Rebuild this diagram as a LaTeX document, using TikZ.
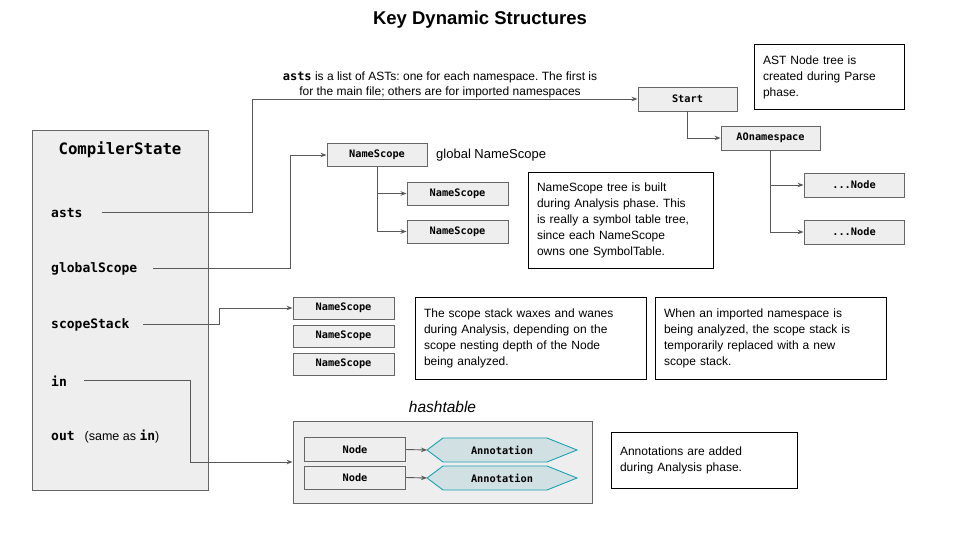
\documentclass[tikz,border=0pt]{standalone}
\usepackage{fontspec}
\setmainfont{Liberation Sans}
\setmonofont{DejaVu Sans Mono}
\usetikzlibrary{arrows.meta}
\definecolor{boxfill}{HTML}{EEEEEE}
\definecolor{boxline}{HTML}{666666}
\definecolor{wirecol}{HTML}{595959}
\definecolor{annotfill}{HTML}{D0E0E3}
\definecolor{annotline}{HTML}{18A2B2}
\tikzset{
  gbox/.style={draw=boxline, fill=boxfill, line width=0.9pt, inner sep=0pt,
    font=\fontsize{10.3}{12}\selectfont\ttfamily\bfseries},
  boxtext/.style={inner sep=0pt, font=\fontsize{10.3}{12}\selectfont\ttfamily\bfseries},
  note/.style={draw=black, fill=white, line width=1pt, inner xsep=9pt, inner ysep=0pt,
    align=left, font=\fontsize{12}{16}\selectfont},
  field/.style={anchor=west, inner sep=0pt, font=\fontsize{13}{15}\selectfont\ttfamily\bfseries},
  wire/.style={draw=wirecol, line width=0.9pt, -{Stealth[length=6pt,width=4.5pt]}},
  annot/.style={draw=annotline, fill=annotfill, line width=0.9pt},
}
\frenchspacing

\begin{document}
\begin{tikzpicture}[x=1pt, y=-1pt]
			%%%%% START %%%%%
			\useasboundingbox (0,0) rectangle (960,540);
			
			\node[font=\fontsize{18.5}{22}\selectfont\bfseries] (title) at (480,20) {Key Dynamic Structures};
			
			% compiler state
			\node[draw=boxline, fill=boxfill, line width=0.9pt, minimum width=176, minimum height=360] (state) at (120,310) {};
			\node[font=\fontsize{15.7}{18}\selectfont\ttfamily\bfseries] (statename) at (120,150) {CompilerState};
			\node[field] (asts) at (51,213) {asts};
			\node[field] (globalscope) at (51,269) {globalScope};
			\node[field] (scopestack) at (51,325) {scopeStack};
			\node[field] (in) at (51,381) {in};
			\node[field] (out) at (51,437) {out\hspace{10pt}{\rmfamily\mdseries\fontsize{12.5}{15}\selectfont (same as }in{\rmfamily\mdseries\fontsize{12.5}{15}\selectfont )}};
			\coordinate (astsout) at (102,212.5);
			\coordinate (globalout) at (153,268.5);
			\coordinate (stackout) at (143,324.5);
			\coordinate (inout) at (84,380.5);
			
			% AST tree
			\node[font=\fontsize{12}{15}\selectfont, align=center] (astslabel) at (440,84.5) {\textbf{\texttt{asts}} is a list of ASTs: one for each namespace. The first is\\for the main file; others are for imported namespaces};
			\node[gbox, minimum width=99, minimum height=24] (start) at (687.5,99) {Start};
			\node[gbox, minimum width=99, minimum height=24] (aonamespace) at (770.5,138) {AOnamespace};
			\node[gbox, minimum width=100, minimum height=24] (subnode1) at (854,185) {...Node};
			\node[gbox, minimum width=100, minimum height=24] (subnode2) at (854,232) {...Node};
			\node[note, minimum height=65, text width=132] (astnote) at (829,77.5) {AST Node tree is\\created during Parse\\phase.};
			
			\draw[wire] (astsout) -| (252,99) -- (start.west);
			\draw[wire] (start.south) |- (aonamespace.west);
			\draw[wire] (aonamespace.south) |- (subnode1.west);
			\draw[wire] (aonamespace.south) |- (subnode2.west);
			
			% name scope tree
			\node[gbox, minimum width=100, minimum height=23] (globalns) at (377,155) {NameScope};
			\node[anchor=west, inner sep=0pt, font=\fontsize{13}{15}\selectfont] (globallabel) at (436,155) {global NameScope};
			\node[gbox, minimum width=101, minimum height=23] (childns1) at (457.5,193.5) {NameScope};
			\node[gbox, minimum width=101, minimum height=23] (childns2) at (457.5,231.5) {NameScope};
			\node[note, minimum height=95, text width=167] (treenote) at (620.5,220.5) {NameScope tree is built\\during Analysis phase. This\\is really a symbol table tree,\\since each NameScope\\owns one SymbolTable.};
			
			\draw[wire] (globalout) -| (290,155) -- (globalns.west);
			\draw[wire] (globalns.south) |- (childns1.west);
			\draw[wire] (globalns.south) |- (childns2.west);
			
			% scope stack
			\node[gbox, minimum width=101, minimum height=22] (stack1) at (343.5,308) {NameScope};
			\node[gbox, minimum width=101, minimum height=22] (stack2) at (343.5,336) {NameScope};
			\node[gbox, minimum width=101, minimum height=22] (stack3) at (343.5,364) {NameScope};
			\node[note, minimum height=82, text width=213] (stacknote) at (530.5,338) {The scope stack waxes and wanes\\during Analysis, depending on the\\scope nesting depth of the Node\\being analyzed.};
			\node[note, minimum height=82, text width=213] (importnote) at (770.5,338) {When an imported namespace is\\being analyzed, the scope stack is\\temporarily replaced with a new\\scope stack.};
			
			\draw[wire] (stackout) -| (219,308) -- (stack1.west);
			
			% hashtable
			\node[font=\fontsize{15.5}{18}\selectfont\itshape] (hashlabel) at (442.5,407) {hashtable};
			\node[draw=boxline, fill=boxfill, line width=0.9pt, minimum width=299, minimum height=82] (hash) at (442.5,462) {};
			\node[gbox, minimum width=101, minimum height=24] (key1) at (355,449.5) {Node};
			\node[gbox, minimum width=101, minimum height=23] (key2) at (355,477.5) {Node};
			\draw[annot] (427,450) -- (443,438) -- (547,438) -- (577,450) -- (547,462) -- (443,462) -- cycle;
			\draw[annot] (427,478) -- (443,466) -- (547,466) -- (577,478) -- (547,490) -- (443,490) -- cycle;
			\node[boxtext] (annot1) at (502,450) {Annotation};
			\node[boxtext] (annot2) at (502,478) {Annotation};
			\coordinate (annot1tip) at (427,450);
			\coordinate (annot2tip) at (427,478);
			\node[note, minimum height=56, text width=168] (annotnote) at (704,460) {Annotations are added\\during Analysis phase.};
			
			\draw[wire] (inout) -| (190,462) -- (hash.west);
			\draw[wire] (key1.east) -- (annot1tip);
			\draw[wire] (key2.east) -- (annot2tip);
			
			%%%%% END %%%%%
\end{tikzpicture}
\end{document}
